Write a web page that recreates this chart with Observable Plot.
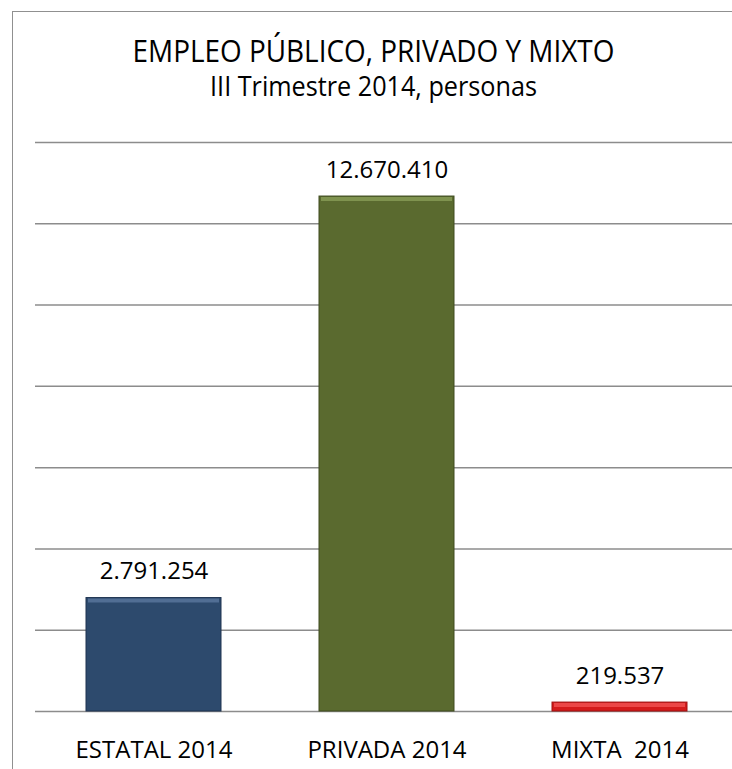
<!DOCTYPE html>
<html>
<head>
<meta charset="utf-8">
<script src="https://cdn.jsdelivr.net/npm/d3@7"></script>
<script src="https://cdn.jsdelivr.net/npm/@observablehq/plot@0.6"></script>
<style>
  html, body { margin: 0; padding: 0; width: 732px; height: 769px; overflow: hidden; background: #fff; font-family: "Open Sans", sans-serif; color: #000; }
  #frame { position: absolute; left: 12px; top: 11px; width: 723px; height: 800px; border: 1.5px solid #909090; box-sizing: border-box; }
  .head { position: absolute; left: 12px; width: 723px; text-align: center; line-height: 1; white-space: nowrap; transform: scaleX(0.9); transform-origin: 50% 50%; }
  #title { top: 34.5px; font-size: 31px; }
  #subtitle { top: 71px; font-size: 28px; }
  #chart { position: absolute; left: 0; top: 110px; width: 750px; }
  #chart svg { max-width: none !important; width: 750px !important; height: 659px !important; }
  #chart svg text { white-space: pre; }
</style>
</head>
<body>
<div id="frame"></div>
<div id="title" class="head"></div>
<div id="subtitle" class="head"></div>
<div id="chart"></div>
<script>
const titleText = "EMPLEO PÚBLICO, PRIVADO Y MIXTO";
const subtitleText = "III Trimestre 2014, personas";
const categories = ["ESTATAL 2014", "PRIVADA 2014", "MIXTA  2014"];
const values = [2791254, 12670410, 219537];
const gridTicks = [0, 2000000, 4000000, 6000000, 8000000, 10000000, 12000000, 14000000];
const barColors = ["#2d4a6d", "#5a6a2f", "#d41b1b"];
const bevelColors = ["#6f8db5", "#9fb56a", "#ff6b6b"];
const edgeColors = ["#1e3350", "#3f4b1f", "#9e1010"];

document.getElementById("title").textContent = titleText;
document.getElementById("subtitle").textContent = subtitleText;

const esLocale = d3.formatLocale({decimal: ",", thousands: ".", grouping: [3], currency: ["", ""]});
const fmt = esLocale.format(",d");

const data = categories.map((c, i) => ({cat: c, value: values[i], fill: barColors[i], bevel: bevelColors[i], edge: edgeColors[i]}));

const chart = Plot.plot({
  width: 750,
  height: 659,
  marginLeft: 35,
  marginRight: 12.5,
  marginTop: 32,
  marginBottom: 58,
  x: {domain: categories, paddingInner: 0.4225, paddingOuter: 0.214, label: null},
  y: {domain: [0, 14000000], ticks: gridTicks, label: null, axis: null},
  color: {type: "identity"},
  style: {fontFamily: "'Open Sans', sans-serif", fontSize: "24px", color: "#000", background: "transparent", overflow: "visible"},
  marks: [
    Plot.gridY(gridTicks, {stroke: "#8c8c8c", strokeOpacity: 1, strokeWidth: 1.5}),
    Plot.barY(data, {x: "cat", y: "value", fill: "fill", stroke: "edge", strokeWidth: 1}),
    Plot.tickY(data, {x: "cat", y: "value", stroke: "bevel", strokeWidth: 4, strokeOpacity: 0.55, dy: 2.5, insetLeft: 2, insetRight: 2}),
    Plot.text(data, {x: "cat", y: "value", text: d => fmt(d.value), lineAnchor: "bottom", dy: -19, fontSize: 24, fill: "#000"}),
    Plot.axisX({tickSize: 0, tickPadding: 29, fontSize: 24, label: null, fill: "#000"})
  ]
});
document.getElementById("chart").appendChild(chart);
</script>
</body>
</html>
